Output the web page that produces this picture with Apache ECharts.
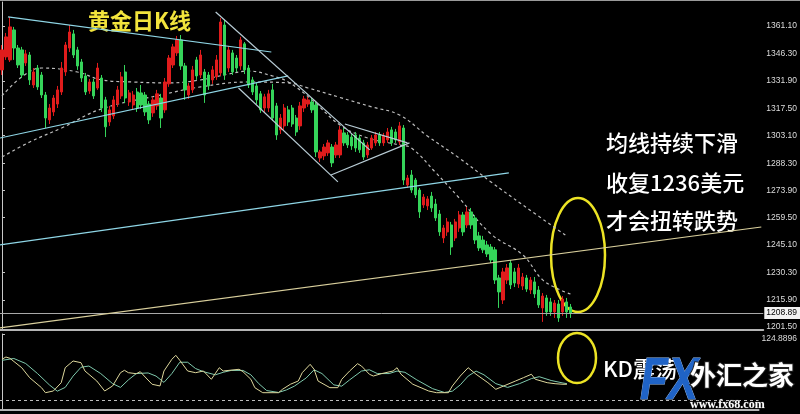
<!DOCTYPE html>
<html>
<head>
<meta charset="utf-8">
<title>黄金日K线</title>
<script src="https://cdn.jsdelivr.net/npm/echarts@6/dist/echarts.min.js"></script>
<style>
    html,body{margin:0;padding:0;background:#000;}
    #main{width:800px;height:414px;}
</style>
</head>
<body>
<div id="main"></div>
<script>
// 日K线数据
var opens = [
    1337.8,1344.7,1343.1,1359.0,1349.4,1348.4,1341.5,1345.7,1329.8,1338.8,
    1335.1,1324.5,1311.3,1315.5,1319.7,1326.1,1336.7,1349.4,1356.9,1348.4,
    1342.0,1334.6,1326.6,1331.4,1328.2,1333.5,1321.9,1310.2,1313.4,1319.7,
    1324.0,1336.7,1320.8,1319.2,1326.1,1325.6,1324.5,1319.7,1315.0,1318.7,
    1322.9,1316.6,1330.4,1340.4,1346.8,1353.7,1339.9,1324.5,1327.2,1343.1,
    1335.1,1336.7,1335.1,1332.5,1334.1,1336.2,1361.6,1338.8,1346.8,1344.1,
    1339.9,1351.6,1338.8,1332.5,1329.3,1325.1,1317.6,1317.6,1327.2,1318.7,
    1306.0,1308.1,1316.6,1317.6,1312.3,1308.1,1317.6,1319.7,1320.8,1319.2,
    1291.1,1292.2,1293.8,1296.9,1292.7,1292.7,1304.4,1303.3,1302.2,1303.3,
    1301.7,1299.1,1292.7,1296.4,1299.1,1303.3,1299.1,1300.7,1306.0,1304.9,
    1299.6,1307.0,1276.8,1282.1,1279.4,1274.1,1266.2,1265.7,1270.9,1266.7,
    1261.4,1248.7,1251.9,1255.6,1248.7,1254.0,1260.9,1255.6,1262.5,1259.3,
    1249.8,1247.6,1245.0,1243.9,1242.4,1227.5,1215.8,1226.4,1235.4,1230.7,
    1224.3,1223.2,1227.5,1221.1,1225.4,1221.1,1211.6,1216.9,1214.8,1209.5,
    1213.7,1209.5,1214.8,1212.1
];
var closes = [
    1348.4,1355.3,1360.6,1349.4,1340.4,1335.1,1346.3,1332.5,1336.7,1328.8,
    1324.5,1312.3,1317.6,1322.9,1327.2,1338.8,1351.0,1357.9,1345.7,1339.9,
    1333.5,1326.1,1331.4,1324.0,1338.8,1317.6,1307.6,1316.6,1321.9,1327.2,
    1334.1,1322.9,1325.6,1324.5,1317.6,1319.2,1315.5,1311.3,1321.9,1325.1,
    1312.3,1331.4,1344.1,1350.0,1353.7,1339.9,1327.2,1329.3,1337.8,1334.6,
    1345.7,1324.5,1329.3,1337.8,1343.1,1363.2,1335.1,1348.4,1336.7,1338.8,
    1353.7,1337.8,1329.8,1326.1,1321.9,1316.6,1323.5,1325.1,1312.3,1303.3,
    1312.3,1317.6,1310.2,1309.1,1304.9,1318.7,1322.4,1321.9,1316.6,1294.3,
    1294.3,1296.9,1299.1,1288.5,1298.0,1306.0,1299.1,1298.0,1297.5,1296.4,
    1295.4,1291.6,1298.0,1301.7,1303.3,1299.1,1302.8,1304.9,1299.1,1300.7,
    1308.1,1279.4,1280.5,1274.1,1271.5,1262.5,1270.4,1269.4,1264.6,1259.3,
    1251.9,1254.0,1257.2,1243.9,1257.2,1260.9,1251.9,1262.5,1255.6,1247.6,
    1243.4,1242.4,1240.2,1237.0,1226.4,1220.1,1230.7,1232.8,1223.8,1224.8,
    1232.8,1228.0,1221.6,1226.4,1219.0,1213.2,1217.9,1209.5,1209.5,1214.2,
    1206.3,1216.3,1209.5,1208.89
];
var lows = [
    1335.1,1343.1,1342.0,1343.1,1338.8,1333.5,1339.9,1329.8,1328.2,1327.2,
    1322.9,1307.0,1309.1,1313.4,1317.6,1324.5,1334.6,1347.3,1344.1,1337.8,
    1331.4,1324.5,1325.1,1322.4,1327.2,1315.5,1302.2,1308.1,1311.8,1318.2,
    1322.4,1320.3,1318.7,1316.6,1315.5,1317.1,1313.4,1309.1,1312.9,1316.6,
    1307.0,1315.0,1328.8,1338.8,1345.2,1337.8,1321.9,1322.4,1325.6,1332.5,
    1333.5,1320.3,1327.2,1330.4,1332.5,1334.6,1332.5,1336.7,1335.1,1336.7,
    1337.8,1335.6,1328.2,1324.5,1319.7,1315.0,1315.5,1315.5,1310.7,1300.7,
    1303.8,1306.0,1308.1,1307.6,1302.8,1306.0,1315.5,1318.2,1315.0,1291.6,
    1289.0,1290.0,1292.2,1286.3,1291.1,1291.1,1297.5,1296.4,1295.4,1294.3,
    1293.8,1290.0,1291.1,1295.4,1297.5,1297.5,1297.5,1299.1,1297.5,1299.1,
    1298.0,1276.8,1275.2,1272.6,1269.9,1259.3,1264.6,1263.5,1262.5,1257.7,
    1249.8,1246.0,1249.8,1239.7,1247.1,1251.9,1249.8,1254.0,1253.5,1245.5,
    1241.8,1240.7,1238.6,1235.4,1224.3,1211.6,1213.7,1224.3,1221.6,1222.7,
    1222.2,1221.1,1220.1,1219.0,1216.9,1211.6,1204.2,1207.4,1207.4,1206.3,
    1204.2,1207.4,1206.3,1206.3
];
var highs = [
    1351.0,1357.4,1365.9,1360.6,1351.0,1350.0,1348.4,1347.3,1338.8,1340.4,
    1336.7,1326.1,1319.7,1324.5,1329.3,1342.0,1352.6,1361.6,1359.0,1350.0,
    1343.6,1336.2,1333.0,1333.0,1341.5,1335.1,1323.5,1318.7,1324.0,1329.3,
    1336.7,1340.4,1327.2,1326.6,1328.2,1329.8,1326.1,1321.3,1323.5,1327.2,
    1325.1,1333.5,1345.7,1351.6,1355.8,1356.3,1341.5,1330.9,1339.9,1344.7,
    1348.4,1338.3,1336.7,1339.9,1345.7,1365.3,1364.3,1350.5,1348.4,1345.7,
    1355.3,1352.6,1340.4,1334.1,1330.9,1326.6,1325.1,1327.2,1330.4,1320.3,
    1314.4,1319.7,1318.7,1319.2,1313.9,1320.8,1324.0,1323.5,1322.9,1320.8,
    1295.4,1298.5,1300.7,1298.5,1299.6,1308.1,1307.0,1304.9,1303.8,1304.9,
    1303.3,1300.7,1299.6,1303.3,1304.9,1304.9,1304.4,1307.0,1307.6,1306.5,
    1310.2,1308.6,1282.1,1284.7,1280.5,1275.2,1272.0,1270.9,1273.1,1269.4,
    1263.5,1255.6,1259.3,1257.2,1258.8,1263.0,1262.5,1265.1,1264.6,1260.9,
    1251.9,1249.8,1247.1,1245.5,1243.9,1229.1,1232.8,1234.9,1237.0,1232.8,
    1234.9,1230.1,1229.1,1228.0,1228.0,1223.2,1219.5,1218.5,1216.9,1215.8,
    1215.8,1217.9,1216.9,1213.7
];

// 两条均线（虚线），[K线序号, 价格]
var maShort = [
    [0,1324.0],[5,1334.1],[10,1338.8],[19,1336.7],[25,1332.5],[33,1331.4],
    [42,1330.9],[50,1332.5],[57,1335.6],[62,1337.2],[68,1334.6],[72,1331.4],
    [78,1321.9],[85,1308.6],[92,1301.7],[100,1298.0],[103,1296.4],[109,1283.6],
    [115,1269.9],[123,1250.8],[131,1239.7],[136,1226.5],[141,1220.6],[143,1219.0]
];
var maLong = [
    [0,1291.6],[7,1299.6],[15,1307.0],[25,1317.1],[40,1324.5],[50,1328.8],
    [62,1331.4],[72,1330.9],[77,1328.2],[85,1323.2],[93,1318.2],[100,1313.9],
    [107,1302.8],[115,1291.1],[123,1278.4],[131,1266.2],[142,1249.8]
];

// 画线：趋势线 / 通道 / 三角形
var trendCyan = [
    [[1.5,1365.9],[67.75,1347.3]],
    [[-0.5,1301.7],[72,1334.6]],
    [[-0.5,1245.0],[127.5,1283.2]]
];
var trendGrey = [
    [[53.75,1368.5],[92.5,1295.4]],
    [[59.5,1328.2],[84.5,1278.4]],
    [[86.25,1309.1],[102,1299.1]],
    [[82.75,1282.1],[102.5,1299.1]]
];
var trendYellow = [
    [[-0.5,1201.0],[191,1254.5]]
];

// KD 指标
var kLine = [
    [0,84.7],[1,88.3],[2,86.3],[5,71.3],[7,55.5],[10,39.6],[11,31.6],[13,34.3],
    [15,47.5],[16,71.3],[18,82.0],[20,79.3],[21,66.1],[24,50.2],[26,34.3],[28,42.3],
    [30,63.4],[31,67.2],[32,63.4],[34,61.8],[35,65.0],[36,58.1],[38,45.0],[40,42.3],
    [41,66.1],[43,84.7],[44,91.0],[45,83.1],[47,66.1],[49,63.4],[51,66.1],[53,52.9],
    [55,71.3],[56,66.1],[60,68.8],[61,65.0],[63,52.9],[64,39.6],[66,31.6],[70,31.6],
    [71,37.0],[73,45.0],[75,50.2],[76,63.4],[78,76.7],[79,68.8],[80,50.2],[83,39.6],
    [85,39.6],[86,52.9],[88,66.1],[90,77.7],[91,74.0],[93,60.9],[94,58.1],[96,61.8],
    [99,66.1],[100,71.3],[101,60.9],[104,45.0],[108,34.3],[110,31.6],[113,31.6],[114,42.3],
    [116,58.1],[118,71.3],[120,60.9],[123,47.5],[125,37.0],[127,42.3],[130,50.2],[132,55.5],
    [134,60.9],[135,52.9],[138,47.5],[140,45.9],[142,45.0],[143,45.0]
];
var dLine = [
    [0,83],[3,86],[6,78],[9,62],[12,44],[14,34],[16,40],[18,58],[20,72],[22,74],
    [25,62],[28,46],[30,40],[32,52],[34,62],[37,63],[39,58],[41,48],[43,62],[45,80],
    [47,80],[49,70],[51,65],[54,60],[56,64],[58,67],[61,67],[63,60],[65,46],[67,35],
    [70,32],[72,36],[74,42],[77,55],[79,68],[81,62],[84,44],[86,42],[88,52],[91,66],
    [93,68],[95,62],[98,62],[100,66],[102,64],[105,52],[109,38],[112,32],[114,34],[116,44],
    [118,58],[120,66],[122,60],[125,46],[128,40],[131,46],[134,54],[136,57],[139,51],[142,47],
    [143,46]
];

var priceTicks = [1361.10,1346.30,1331.90,1317.50,1303.10,1288.30,1273.90,1259.50,1245.10,1230.30,1215.90,1201.50];
var kdTicks = [124.8896];
var kdLevel = 20;
var lastPrice = 1208.89;

var slots = 192; // 右侧留白
var categories = [];
for (var i = 0; i < slots; i++) categories.push(String(i));

var candles = [];
for (var j = 0; j < opens.length; j++) {
    candles.push([opens[j], closes[j], lows[j], highs[j]]);
}

function segSeries(list, color) {
    return list.map(function (pts) {
        return {
            type: 'line', xAxisIndex: 1, yAxisIndex: 0,
            data: pts, symbol: 'none', silent: true, z: 5,
            lineStyle: {color: color, width: 1.2}
        };
    });
}

var chart = echarts.init(document.getElementById('main'));

var series = [
    {
        type: 'candlestick',
        xAxisIndex: 0, yAxisIndex: 0,
        data: candles,
        barWidth: 2.8,
        z: 3,
        itemStyle: {
            color: '#e01c1c', color0: '#35d45a',
            borderColor: '#e01c1c', borderColor0: '#35d45a',
            borderWidth: 1
        },
        markLine: {
            symbol: ['none', 'none'],
            silent: true,
            animation: false,
            data: [{yAxis: lastPrice}],
            lineStyle: {color: '#a8a8a8', width: 1, type: 'solid'},
            label: {
                show: true, position: 'end', distance: 1,
                formatter: lastPrice.toFixed(2),
                backgroundColor: '#f2f2f2', color: '#000',
                fontSize: 8.5, fontFamily: 'Liberation Sans',
                padding: [2, 3, 1, 2]
            }
        }
    },
    {
        type: 'line', xAxisIndex: 1, yAxisIndex: 0, data: maShort,
        smooth: 0.4, symbol: 'none', silent: true, z: 2,
        lineStyle: {color: '#bdbdbd', width: 1.2, type: [3, 3]}
    },
    {
        type: 'line', xAxisIndex: 1, yAxisIndex: 0, data: maLong,
        smooth: 0.4, symbol: 'none', silent: true, z: 2,
        lineStyle: {color: '#bdbdbd', width: 1.2, type: [3, 3]}
    },
    {
        type: 'line', xAxisIndex: 2, yAxisIndex: 1, data: dLine,
        symbol: 'none', silent: true,
        lineStyle: {color: '#7fc9ad', width: 1},
        markLine: {
            symbol: ['none', 'none'], silent: true, animation: false,
            data: [{yAxis: kdLevel}],
            label: {show: false},
            lineStyle: {color: '#bdbdbd', width: 1, type: [3, 3]}
        }
    },
    {
        type: 'line', xAxisIndex: 2, yAxisIndex: 1, data: kLine,
        symbol: 'none', silent: true,
        lineStyle: {color: '#ddd79c', width: 1}
    }
].concat(segSeries(trendCyan, '#8fd6e6'))
 .concat(segSeries(trendGrey, '#b9cdd6'))
 .concat(segSeries(trendYellow, '#d9cf9c'));

var cjk = '"Noto Sans CJK SC", sans-serif';

chart.setOption({
    backgroundColor: '#000',
    animation: false,
    grid: [
        {left: 0, right: 34, top: 2, height: 328},
        {left: 0, right: 34, top: 334, height: 76}
    ],
    xAxis: [
        {
            type: 'category', gridIndex: 0, data: categories, boundaryGap: true,
            axisLine: {show: true, lineStyle: {color: '#b4b4b4', width: 2}},
            axisTick: {show: false}, axisLabel: {show: false}, splitLine: {show: false}
        },
        {type: 'value', gridIndex: 0, min: -0.5, max: slots - 0.5, show: false},
        {
            type: 'value', gridIndex: 1, min: -0.5, max: slots - 0.5,
            axisLine: {show: true, onZero: false, lineStyle: {color: '#b4b4b4', width: 2}},
            axisTick: {show: false}, axisLabel: {show: false}, splitLine: {show: false}
        }
    ],
    yAxis: [
        {
            type: 'value', gridIndex: 0, position: 'right',
            min: 1199.9, max: 1373.8,
            splitLine: {show: false},
            axisLine: {show: true, lineStyle: {color: '#c8c8c8'}},
            axisTick: {show: true, length: 3, customValues: priceTicks, lineStyle: {color: '#c8c8c8'}},
            axisLabel: {
                customValues: priceTicks,
                formatter: function (v) { return v.toFixed(2); },
                color: '#dcdcdc', fontSize: 8.5, margin: 3, fontFamily: 'Liberation Sans'
            }
        },
        {
            type: 'value', gridIndex: 1, position: 'right',
            min: 4.1, max: 124.8896,
            splitLine: {show: false},
            axisLine: {show: true, lineStyle: {color: '#c8c8c8'}},
            axisTick: {show: true, length: 3, customValues: kdTicks, lineStyle: {color: '#c8c8c8'}},
            axisLabel: {
                customValues: kdTicks,
                formatter: function (v) { return v.toFixed(4); },
                verticalAlign: 'top',
                color: '#dcdcdc', fontSize: 8.5, margin: 3, fontFamily: 'Liberation Sans'
            }
        }
    ],
    series: series,
    graphic: [
        {type: 'line', shape: {x1: 0, y1: 0.5, x2: 800, y2: 0.5}, style: {stroke: '#9a9a9a', lineWidth: 1}},
        {type: 'text', left: 88, top: 10, style: {text: '黄金日K线', fill: '#f2e43c', font: 'bold 22px ' + cjk}},
        {type: 'text', left: 606, top: 132, style: {text: '均线持续下滑', fill: '#ffffff', font: '500 22px ' + cjk}},
        {type: 'text', left: 606, top: 172, style: {text: '收复1236美元', fill: '#ffffff', font: '500 22px ' + cjk}},
        {type: 'text', left: 606, top: 210, style: {text: '才会扭转跌势', fill: '#ffffff', font: '500 22px ' + cjk}},
        {type: 'ellipse', shape: {cx: 578, cy: 255, rx: 27, ry: 57}, style: {fill: 'none', stroke: '#ece324', lineWidth: 2.5}},
        {type: 'ellipse', shape: {cx: 577, cy: 358, rx: 19, ry: 25}, style: {fill: 'none', stroke: '#ece324', lineWidth: 2.5}},
        {type: 'text', left: 603, top: 358, style: {text: 'KD震荡', fill: '#ffffff', font: '500 22px ' + cjk}},
        // 水印
        {type: 'text', x: 640, y: 352, scaleX: 0.76, style: {text: 'FX', fill: '#1f63c6', stroke: '#9ec0ee', lineWidth: 1, font: 'italic bold 60px "Liberation Sans", sans-serif'}},
        {type: 'text', x: 690, y: 362, style: {text: '外汇之家', fill: '#ffffff', stroke: '#222', lineWidth: 2, font: 'bold 26px ' + cjk}},
        {type: 'text', x: 690, y: 399, style: {text: 'www.fx68.com', fill: '#ffffff', stroke: '#222', lineWidth: 1, font: 'bold 12px "Liberation Serif", serif'}}
    ]
});
</script>
</body>
</html>
